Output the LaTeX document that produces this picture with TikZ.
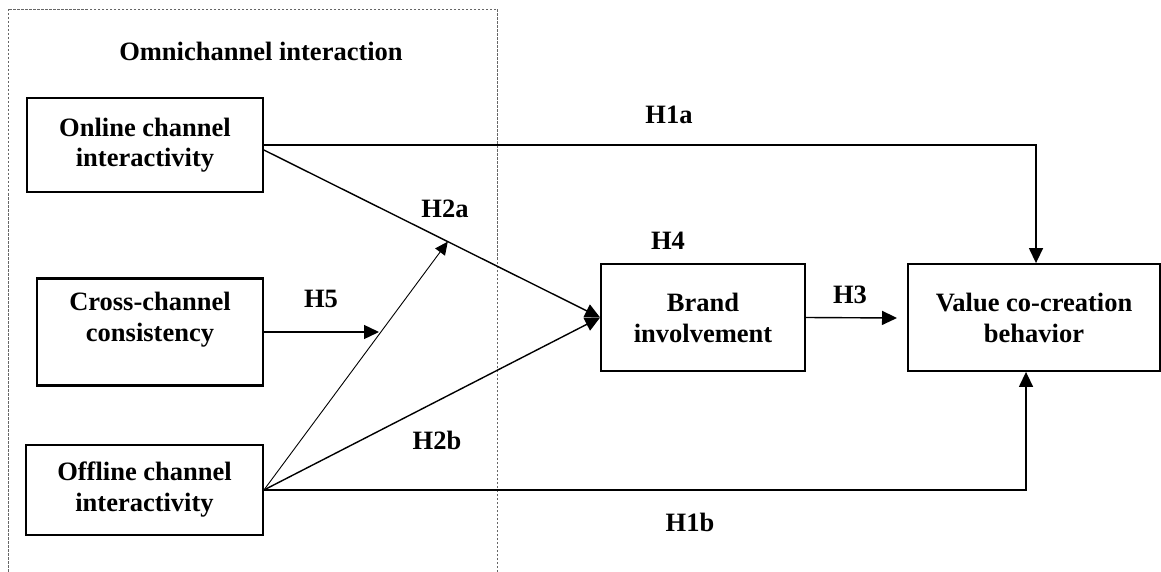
\documentclass[tikz,border=0pt]{standalone}
\usepackage{fontspec}
\setmainfont{Liberation Serif}
\usetikzlibrary{arrows.meta,calc}
\begin{document}
\begin{tikzpicture}[x=1pt,y=-1pt,
  every node/.style={font=\bfseries\fontsize{26.5}{31}\selectfont},
  box/.style={draw,line width=1.8pt,align=center,inner sep=0pt},
  txt/.style={align=center,inner sep=0pt},
  conn/.style={line width=1.4pt,-{Triangle[length=15pt,width=14pt]}},
  thinconn/.style={line width=0.9pt,-{Triangle[length=13pt,width=12pt]}},
  frame/.style={draw=black!60,line width=0.9pt,dash pattern=on 2.5pt off 1.5pt}]
\useasboundingbox (0,0) rectangle (1161,572);
\draw[frame] (8,9) rectangle (497,600);
\node[txt] (title) at (261,51) {Omnichannel interaction};
% boxes
\node[box,minimum width=236pt,minimum height=94pt] (onl) at (145,145) {Online channel\\[-1pt]interactivity};
\node[box,line width=2.8pt,minimum width=226pt,minimum height=107pt] (cross) at (150,332) {};
\node[txt] (crosst) at (150,320) {Cross-channel\\consistency};
\node[box,minimum width=237pt,minimum height=90pt] (off) at (144.5,490) {Offline channel\\interactivity};
\node[box,minimum width=204pt,minimum height=107pt] (brand) at (703,317.5) {Brand\\involvement};
\node[box,minimum width=252pt,minimum height=107pt] (val) at (1034,317.5) {Value co-creation\\behavior};
% coordinates
\coordinate (h5end) at (379,332);
\coordinate (h3end) at (897,318);
\coordinate (m) at ($([yshift=-5pt]onl.east)!0.547!(brand.west)$);
% connectors
\draw[conn] (onl.east) -| ([xshift=2pt]val.north);
\draw[conn] ([yshift=-5pt]onl.east) -- (brand.west);
\draw[conn] (cross.east) -- (h5end);
\draw[thinconn] (off.east) -- (m);
\draw[conn] (off.east) -- (brand.west);
\draw[conn] (off.east) -| ([xshift=-8pt]val.south);
\draw[conn] (brand.east) -- (h3end);
% labels
\node[txt] (h1a) at (669,115) {H1a};
\node[txt] (h2a) at (445,209) {H2a};
\node[txt] (h4) at (668,241) {H4};
\node[txt] (h5) at (321,299) {H5};
\node[txt] (h3) at (850,295) {H3};
\node[txt] (h2b) at (437,440) {H2b};
\node[txt] (h1b) at (690,522) {H1b};
\end{tikzpicture}
\end{document}
